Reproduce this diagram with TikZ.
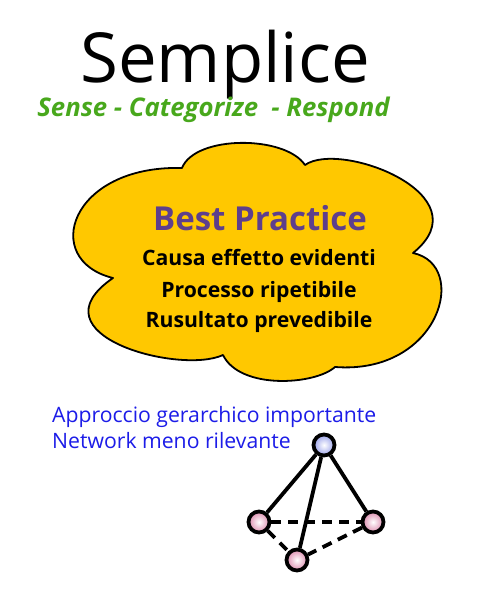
\documentclass[tikz,border=0pt]{standalone}
\usepackage{fontspec}
\setmainfont{Open Sans}
\definecolor{sensegreen}{HTML}{48A81C}
\definecolor{bestpurple}{HTML}{5E3F8C}
\definecolor{netblue}{HTML}{1C1CE8}
\definecolor{cloudyellow}{HTML}{FFC800}
\definecolor{ballblue}{HTML}{9AA2EA}
\definecolor{ballpink}{HTML}{DC8CAE}
\tikzset{
  ball/.style={circle,draw=black,line width=3.8pt,inner sep=0pt,minimum size=21pt,inner color=white},
  solidlink/.style={line width=3.8pt},
  hiddenlink/.style={line width=3.8pt,dash pattern=on 10pt off 7pt}
}
\begin{document}
\begin{tikzpicture}[x=1pt,y=-1pt]
\useasboundingbox (0,0) rectangle (500,593);
\fill[white] (0,0) rectangle (500,593);

% titolo
\node (title) at (225,83)[anchor=base,inner sep=0pt]{\fontsize{69}{69}\selectfont Semplice};
\node (motto) at (213.5,117)[anchor=base,inner sep=0pt]{\fontsize{25.7}{25.7}\selectfont\bfseries\itshape\color{sensegreen}Sense - Categorize~ - Respond};

% nuvola
\draw[fill=cloudyellow,line width=1.8pt,line join=round]
  (113,278) .. controls (40,260) and (70,165) .. (182,168)
  .. controls (195,135) and (285,135) .. (305,165)
  .. controls (340,140) and (485,195) .. (413,253)
  .. controls (470,265) and (440,375) .. (335,367)
  .. controls (315,385) and (240,390) .. (223,355)
  .. controls (180,375) and (30,335) .. cycle;
\node (best) at (260,230)[anchor=base,inner sep=0pt]{\fontsize{33}{33}\selectfont\bfseries\color{bestpurple}Best Practice};
\foreach \y/\name/\txt in {265/causa/Causa effetto evidenti,297/processo/Processo ripetibile,327/risultato/Rusultato prevedibile}
{
  \node (\name) at (259,\y)[anchor=base,inner sep=0pt]{\fontsize{21.2}{21.2}\selectfont\bfseries \txt};
}

% network
\node (gerarchia) at (52,422)[anchor=base west,inner sep=0pt]{\fontsize{21.2}{21.2}\selectfont\color{netblue}Approccio gerarchico importante};
\node (rete) at (52,448)[anchor=base west,inner sep=0pt]{\fontsize{21.2}{21.2}\selectfont\color{netblue}Network meno rilevante};

\node[ball,outer color=ballblue] (top) at (324,445){};
\node[ball,outer color=ballpink] (left) at (259,522){};
\node[ball,outer color=ballpink] (right) at (373,522){};
\node[ball,outer color=ballpink] (bottom) at (297,560){};
\foreach \a in {left,right,bottom}
{
  \draw[solidlink] (top)--(\a);
}
\draw[hiddenlink] (left)--(right);
\draw[hiddenlink] (right)--(bottom);
\draw[hiddenlink] (left)--(bottom);
\end{tikzpicture}
\end{document}
